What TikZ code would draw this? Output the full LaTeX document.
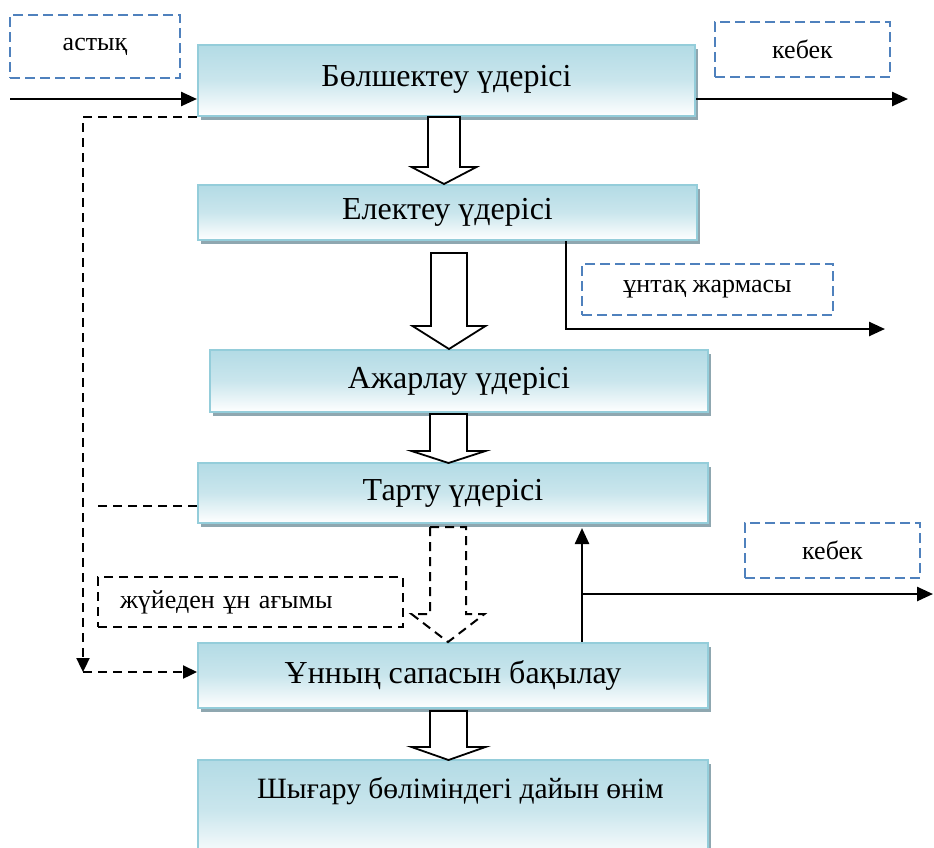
\documentclass[tikz,border=0pt]{standalone}
\usepackage{fontspec}
\setmainfont{Liberation Serif}
\usetikzlibrary{arrows.meta,shadows}
\definecolor{boxtop}{HTML}{B3DBE5}
\definecolor{boxline}{HTML}{94CDDA}
\definecolor{shadowc}{HTML}{8FA7B0}
\definecolor{lblblue}{HTML}{4F81BD}
\newcommand\blockarr[7]{%
  \draw[#1] (#2-#3,#5) -- (#2+#3,#5) -- (#2+#3,#6) -- (#2+#4,#6) -- (#2,#7) -- (#2-#4,#6) -- (#2-#3,#6) -- cycle;}
\tikzset{
  procbox/.style={rectangle, draw=boxline, line width=2pt, top color=boxtop,
    bottom color=white, middle color=boxtop!70!white,
    drop shadow={shadow xshift=3pt, shadow yshift=-4pt, fill=shadowc, opacity=1},
    inner sep=0pt, font=\fontsize{32}{38}\selectfont},
  lbl/.style={rectangle, draw=lblblue, line width=2.5pt, dash pattern=on 10pt off 5pt,
    inner sep=0pt, font=\fontsize{26}{30}\selectfont},
  blacklbl/.style={rectangle, draw=black, line width=2.3pt, dash pattern=on 9pt off 6pt,
    inner ysep=0pt, inner xsep=22pt, text width=261pt, align=left,
    font=\fontsize{26}{30}\selectfont},
  arr/.style={line width=2.5pt, -{Triangle[length=16pt,width=14pt]}},
  darr/.style={line width=2.3pt, dash pattern=on 9pt off 6pt, -{Triangle[length=14pt,width=13pt]}},
  dline/.style={line width=2.3pt, dash pattern=on 9pt off 6pt},
  blk/.style={draw=black, line width=1.8pt, fill=white, line join=miter},
  dblk/.style={draw=black, line width=2pt, dash pattern=on 9pt off 6pt, fill=white},
  plain/.style={inner sep=0pt, font=\fontsize{29.5}{35}\selectfont},
}
\begin{document}
\begin{tikzpicture}[x=1pt, y=-1pt]
\useasboundingbox (0,0) rectangle (934,847);
% process boxes
\node[procbox, minimum width=497pt, minimum height=71pt, text depth=10pt] (b1) at (446.5,80.5) {Бөлшектеу үдерісі};
\node[procbox, minimum width=499pt, minimum height=55pt] (b2) at (447.5,212.5) {Електеу үдерісі};
\node[procbox, minimum width=498pt, minimum height=62pt] (b3) at (459,381) {Ажарлау үдерісі};
\node[procbox, minimum width=510pt, minimum height=60pt] (b4) at (453,493) {Тарту үдерісі};
\node[procbox, minimum width=510pt, minimum height=65pt] (b5) at (453,675.5) {Ұнның сапасын бақылау};
\node[procbox, minimum width=510pt, minimum height=100pt] (b6) at (453,810) {};
\node[plain] (t6) at (460.5,791) {Шығару бөліміндегі дайын өнім};
% labels
\node[lbl, minimum width=170pt, minimum height=63pt] (l1) at (95,46.5) {астық};
\node[lbl, minimum width=175pt, minimum height=55pt] (l2) at (802.5,49.5) {кебек};
\node[lbl, minimum width=251pt, minimum height=51pt] (l3) at (707.5,289.5) {ұнтақ жармасы};
\node[lbl, minimum width=175pt, minimum height=55pt] (l4) at (832.5,550.5) {кебек};
\node[blacklbl, minimum height=50pt] (l5) at (250.5,602) {жүйеден ұн ағымы};
% block arrows
\blockarr{blk}{444}{16}{32.5}{117}{167}{184}
\blockarr{blk}{449}{18}{36.5}{253}{326}{349}
\blockarr{blk}{448.5}{18.5}{37}{414}{451}{463}
\blockarr{dblk}{448}{18}{36.5}{527}{614}{642}
\blockarr{blk}{448.5}{18.5}{37}{711}{747}{760}
% input / output arrows
\coordinate (in1) at (10,99);
\coordinate (out1) at (908,99);
\draw[arr] (in1) -- (in1 -| b1.west);
\draw[arr] (out1 -| b1.east) -- (out1);
% bypass dashed
\coordinate (c1) at (83,117);
\coordinate (c2) at (83,672);
\draw[darr] (b1.south west) -- (c1) -- (c2);
\draw[darr] (c2) -- (c2 -| b5.west);
\coordinate (c3) at (98,506);
\draw[dline] (c3 -| b4.west) -- (c3);
% semolina out
\coordinate (e1) at (566,329);
\coordinate (e2) at (885,329);
\draw[arr] (e1 |- b2.south) -- (e1) -- (e2);
% control loop
\coordinate (k0) at (582,528);
\coordinate (k1) at (582,594);
\coordinate (k2) at (933,594);
\draw[arr] (k1 |- b5.north) -- (k0);
\draw[arr] (k1) -- (k2);
\end{tikzpicture}
\end{document}
